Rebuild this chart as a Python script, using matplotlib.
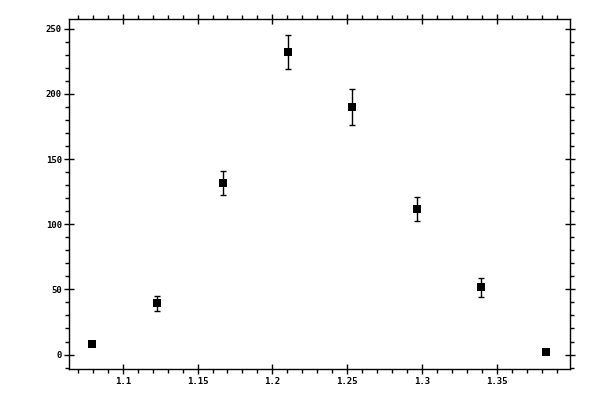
import matplotlib
matplotlib.use("Agg")
import matplotlib.pyplot as plt
from matplotlib.ticker import MultipleLocator

x = [1.0797, 1.1231, 1.1669, 1.2102, 1.2533, 1.2964, 1.3397, 1.3831]
y = [7.9, 39.2, 131.5, 232.3, 190.0, 111.5, 51.5, 2.3]
yerr = [1.5, 5.5, 9.3, 13.1, 13.7, 9.2, 7.2, 1.0]

xticks = [1.1, 1.15, 1.2, 1.25, 1.3, 1.35]
xticklabels = ["1.1", "1.15", "1.2", "1.25", "1.3", "1.35"]
yticks = [0, 50, 100, 150, 200, 250]
yticklabels = ["0", "50", "100", "150", "200", "250"]

fig = plt.figure(figsize=(6, 4), dpi=100)
ax = fig.add_axes([0.1158, 0.0768, 0.8342, 0.875])

ax.errorbar(x, y, yerr=yerr, fmt="none", ecolor="black",
            elinewidth=1.0, capsize=2.0, capthick=1.0)
ax.plot(x, y, "s", color="black", ms=5.2, mew=0)

ax.set_xlim(1.0644, 1.3989)
ax.set_ylim(-11.3, 257.3)
ax.set_xticks(xticks)
ax.set_xticklabels(xticklabels)
ax.set_yticks(yticks)
ax.set_yticklabels(yticklabels)
ax.xaxis.set_minor_locator(MultipleLocator(0.01))
ax.yaxis.set_minor_locator(MultipleLocator(10))

for s in ax.spines.values():
    s.set_linewidth(1.0)

ax.tick_params(which="major", direction="inout", length=7, width=1.0,
               top=True, right=True, labelsize=6.5, pad=2)
ax.tick_params(which="minor", direction="out", length=3, width=1.0,
               top=True, right=True)
for lab in ax.get_xticklabels() + ax.get_yticklabels():
    lab.set_family("DejaVu Sans Mono")
    lab.set_fontweight("bold")

fig.savefig("out.png", dpi=100)
